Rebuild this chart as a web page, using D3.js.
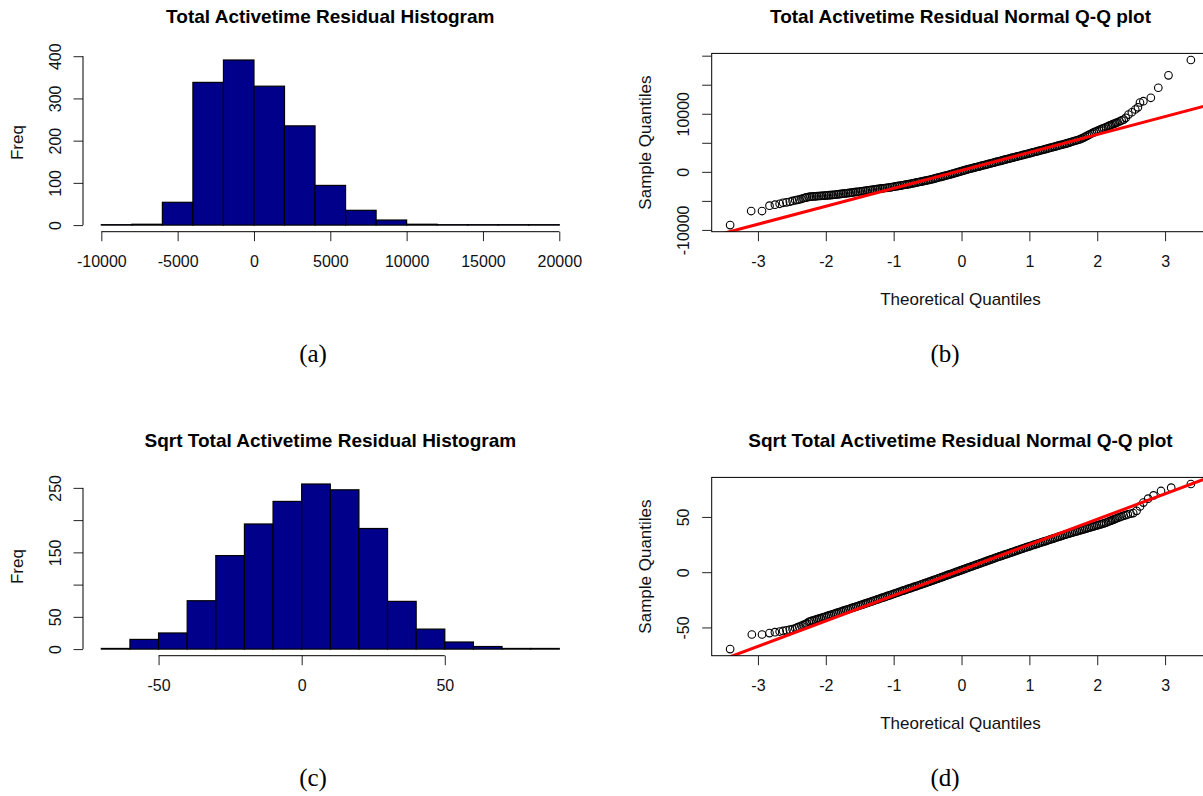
<!DOCTYPE html>
<html>
<head>
<meta charset="utf-8">
<script src="https://cdn.jsdelivr.net/npm/d3@7"></script>
<style>
  body { margin: 0; background: #fff; }
  svg { display: block; font-family: "Liberation Sans", Arial, sans-serif; }
</style>
</head>
<body>
<div id="main"></div>
<script>
// ---- data ----
const histTotalBreaks = [-10000, -8000, -6000, -4000, -2000, 0, 2000, 4000, 6000, 8000, 10000, 12000, 14000, 16000, 18000, 20000];
const histTotalCounts = [1, 2, 54, 338, 391, 329, 235, 94, 35, 12, 2, 1, 1, 1, 1];
const histTotalXTicks = [-10000, -5000, 0, 5000, 10000, 15000, 20000];
const histTotalYTicks = [0, 100, 200, 300, 400];
const histTotalYLabels = [0, 100, 200, 300, 400];

const histSqrtBreaks = [-70, -60, -50, -40, -30, -20, -10, 0, 10, 20, 30, 40, 50, 60, 70, 80, 90];
const histSqrtCounts = [1, 15, 25, 75, 145, 194, 229, 256, 247, 187, 74, 31, 11, 4, 1, 1];
const histSqrtXTicks = [-50, 0, 50];
const histSqrtYTicks = [0, 50, 100, 150, 200, 250];
const histSqrtYLabels = [0, 50, 150, 250];

const qqXTicks = [-3, -2, -1, 0, 1, 2, 3];
const qqTotalYTicks = [-10000, -5000, 0, 5000, 10000, 15000, 20000];
const qqTotalYLabels = [-10000, 0, 10000];
const qqSqrtYTicks = [-50, 0, 50];
const qqSqrtYLabels = [-50, 0, 50];

// qqline: [intercept, slope]
const qqTotalLine = [250, 3088];
const qqSqrtLine = [1.9, 23.0];

// [theoretical quantile, sample quantile]
const qqTotalPoints = [
  [-3.41,-9170],[-3.10,-6750],[-2.94,-6750],[-2.83,-5830],[-2.75,-5650],[-2.68,-5500],[-2.63,-5330],[-2.58,-5250],
  [-2.53,-5150],[-2.49,-5000],[-2.45,-4900],[-2.42,-4840],[-2.39,-4760],[-2.36,-4660],[-2.33,-4550],[-2.30,-4450],[-2.28,-4400],
  [-2.25,-4300],[-2.225,-4277],[-2.20,-4254],[-2.175,-4231],[-2.15,-4209],[-2.125,-4186],[-2.10,-4163],[-2.075,-4140],
  [-2.05,-4117],[-2.025,-4094],[-2.00,-4071],[-1.975,-4048],[-1.95,-4026],[-1.925,-4003],[-1.90,-3980],[-1.875,-3944],
  [-1.85,-3909],[-1.825,-3873],[-1.80,-3837],[-1.775,-3801],[-1.75,-3766],[-1.725,-3730],[-1.70,-3694],[-1.675,-3658],
  [-1.65,-3623],[-1.625,-3585],[-1.60,-3548],[-1.575,-3507],[-1.55,-3467],[-1.525,-3426],[-1.50,-3386],[-1.475,-3345],
  [-1.45,-3305],[-1.425,-3264],[-1.40,-3223],[-1.375,-3182],[-1.35,-3142],[-1.325,-3102],[-1.30,-3062],[-1.275,-3022],
  [-1.25,-2983],[-1.225,-2943],[-1.20,-2904],[-1.175,-2864],[-1.15,-2824],[-1.125,-2784],[-1.10,-2745],[-1.075,-2705],
  [-1.05,-2666],[-1.025,-2617],[-1.00,-2569],[-0.975,-2518],[-0.95,-2467],[-0.925,-2416],[-0.90,-2365],[-0.875,-2314],
  [-0.85,-2263],[-0.825,-2212],[-0.80,-2161],[-0.775,-2108],[-0.75,-2056],[-0.725,-1995],[-0.70,-1935],[-0.675,-1874],
  [-0.65,-1814],[-0.625,-1754],[-0.60,-1694],[-0.575,-1633],[-0.55,-1573],[-0.525,-1512],[-0.50,-1452],[-0.475,-1385],
  [-0.45,-1319],[-0.425,-1242],[-0.40,-1165],[-0.375,-1088],[-0.35,-1011],[-0.325,-934],[-0.30,-858],[-0.275,-781],
  [-0.25,-704],[-0.225,-627],[-0.20,-551],[-0.175,-468],[-0.15,-385],[-0.125,-300],[-0.10,-216],[-0.075,-131],
  [-0.05,-47],[-0.025,37],[0.00,122],[0.025,206],[0.05,291],[0.075,375],[0.10,460],[0.125,535],[0.15,610],[0.175,685],
  [0.20,760],[0.225,835],[0.25,910],[0.275,985],[0.30,1060],[0.325,1135],[0.35,1210],[0.375,1285],[0.40,1361],
  [0.425,1437],[0.45,1514],[0.475,1591],[0.50,1668],[0.525,1744],[0.55,1821],[0.575,1898],[0.60,1975],[0.625,2052],
  [0.65,2129],[0.675,2204],[0.70,2280],[0.725,2355],[0.75,2430],[0.775,2505],[0.80,2580],[0.825,2655],[0.85,2730],
  [0.875,2805],[0.90,2880],[0.925,2955],[0.95,3030],[0.975,3106],[1.00,3183],[1.025,3259],[1.05,3336],[1.075,3413],
  [1.10,3490],[1.125,3567],[1.15,3644],[1.175,3720],[1.20,3797],[1.225,3874],[1.25,3952],[1.275,4031],[1.30,4110],
  [1.325,4189],[1.35,4269],[1.375,4348],[1.40,4427],[1.425,4506],[1.45,4586],[1.475,4665],[1.50,4745],[1.525,4827],
  [1.55,4910],[1.575,4998],[1.60,5087],[1.625,5175],[1.65,5263],[1.675,5351],[1.70,5439],[1.725,5527],[1.75,5615],
  [1.775,5755],[1.80,5895],[1.825,6048],[1.85,6201],[1.875,6354],[1.90,6507],[1.925,6649],[1.95,6791],[1.975,6917],
  [2.00,7044],[2.025,7170],[2.05,7297],[2.075,7423],[2.10,7550],
  [2.13,7700],[2.16,7830],[2.18,7950],[2.20,8050],[2.22,8150],[2.24,8250],
  [2.26,8320],[2.28,8420],[2.30,8540],[2.33,8700],[2.36,8850],[2.39,9000],[2.42,9300],[2.46,9860],[2.51,10260],
  [2.56,10730],[2.60,11100],[2.63,11940],[2.68,12160],[2.79,12750],[2.90,14480],[3.05,16610],[3.38,19255]
];

const qqSqrtPoints = [
  [-3.41,-69.6],[-3.09,-56.4],[-2.94,-56.4],[-2.83,-55.1],[-2.75,-54.3],[-2.68,-53.7],[-2.63,-53.2],[-2.58,-52.6],
  [-2.53,-52.0],[-2.49,-51.4],[-2.45,-50.8],[-2.42,-50.0],[-2.39,-49.3],[-2.36,-48.5],[-2.33,-47.7],[-2.30,-47.0],[-2.28,-46.4],
  [-2.25,-44.9],[-2.225,-44.4],[-2.20,-43.9],[-2.175,-43.5],[-2.15,-43.0],[-2.125,-42.5],[-2.10,-42.0],[-2.075,-41.6],
  [-2.05,-41.1],[-2.025,-40.6],[-2.00,-40.1],[-1.975,-39.6],[-1.95,-39.1],[-1.925,-38.6],[-1.90,-38.1],[-1.875,-37.6],
  [-1.85,-37.1],[-1.825,-36.6],[-1.80,-36.1],[-1.775,-35.6],[-1.75,-35.1],[-1.725,-34.6],[-1.70,-34.1],[-1.675,-33.6],
  [-1.65,-33.1],[-1.625,-32.6],[-1.60,-32.1],[-1.575,-31.6],[-1.55,-31.1],[-1.525,-30.6],[-1.50,-30.1],[-1.475,-29.6],
  [-1.45,-29.1],[-1.425,-28.5],[-1.40,-28.0],[-1.375,-27.5],[-1.35,-27.0],[-1.325,-26.5],[-1.30,-25.9],[-1.275,-25.4],
  [-1.25,-24.9],[-1.225,-24.4],[-1.20,-23.8],[-1.175,-23.3],[-1.15,-22.8],[-1.125,-22.3],[-1.10,-21.7],[-1.075,-21.2],
  [-1.05,-20.7],[-1.025,-20.2],[-1.00,-19.6],[-0.975,-19.1],[-0.95,-18.6],[-0.925,-18.1],[-0.90,-17.5],[-0.875,-17.0],
  [-0.85,-16.5],[-0.825,-16.0],[-0.80,-15.4],[-0.775,-14.9],[-0.75,-14.4],[-0.725,-13.9],[-0.70,-13.3],[-0.675,-12.8],
  [-0.65,-12.3],[-0.625,-11.8],[-0.60,-11.2],[-0.575,-10.7],[-0.55,-10.2],[-0.525,-9.7],[-0.50,-9.1],[-0.475,-8.6],
  [-0.45,-8.0],[-0.425,-7.5],[-0.40,-6.9],[-0.375,-6.4],[-0.35,-5.8],[-0.325,-5.3],[-0.30,-4.7],[-0.275,-4.2],
  [-0.25,-3.6],[-0.225,-3.1],[-0.20,-2.5],[-0.175,-2.0],[-0.15,-1.4],[-0.125,-0.9],[-0.10,-0.3],[-0.075,0.3],
  [-0.05,0.8],[-0.025,1.4],[0.00,1.9],[0.025,2.5],[0.05,3.0],[0.075,3.6],[0.10,4.1],[0.125,4.7],[0.15,5.2],[0.175,5.8],
  [0.20,6.3],[0.225,6.9],[0.25,7.4],[0.275,8.0],[0.30,8.5],[0.325,9.1],[0.35,9.6],[0.375,10.2],[0.40,10.7],[0.425,11.3],
  [0.45,11.8],[0.475,12.4],[0.50,12.9],[0.525,13.5],[0.55,14.0],[0.575,14.5],[0.60,15.0],[0.625,15.6],[0.65,16.1],
  [0.675,16.6],[0.70,17.1],[0.725,17.7],[0.75,18.2],[0.775,18.7],[0.80,19.2],[0.825,19.8],[0.85,20.3],[0.875,20.8],
  [0.90,21.3],[0.925,21.9],[0.95,22.4],[0.975,22.9],[1.00,23.4],[1.025,23.9],[1.05,24.4],[1.075,24.9],[1.10,25.4],
  [1.125,25.9],[1.15,26.4],[1.175,26.9],[1.20,27.4],[1.225,27.9],[1.25,28.4],[1.275,28.9],[1.30,29.4],[1.325,29.9],
  [1.35,30.4],[1.375,30.9],[1.40,31.4],[1.425,31.9],[1.45,32.4],[1.475,32.9],[1.50,33.4],[1.525,33.9],[1.55,34.3],
  [1.575,34.8],[1.60,35.2],[1.625,35.7],[1.65,36.1],[1.675,36.6],[1.70,37.0],[1.725,37.5],[1.75,37.9],[1.775,38.4],
  [1.80,38.8],[1.825,39.3],[1.85,39.7],[1.875,40.2],[1.90,40.6],[1.925,41.1],[1.95,41.5],[1.975,42.0],[2.00,42.4],
  [2.025,42.9],[2.05,43.3],[2.075,43.8],[2.10,44.2],
  [2.13,44.9],[2.16,45.6],[2.18,46.1],[2.20,46.6],[2.22,47.1],[2.24,47.6],
  [2.26,48.1],[2.28,48.6],[2.30,49.1],[2.33,49.8],[2.36,50.5],[2.39,51.1],[2.42,51.7],[2.45,52.3],[2.49,52.9],
  [2.53,53.5],[2.58,55.5],[2.63,59.5],[2.68,63.0],[2.75,66.5],[2.83,69.5],[2.94,73.5],[3.09,76.5],[3.38,79.8]
];

// ---- layout ----
const width = 1203;
const height = 796;
const rowOffset = 424;
const leftPlot = { left: 83, right: 577.6 };
const rightPlot = { left: 711.7, right: 1209.3 };
const plotTop = 53.4;
const plotBottom = 231.7;
const tickLen = 9.5;

const svg = d3.select("#main").append("svg").attr("width", width).attr("height", height);
svg.append("rect").attr("width", width).attr("height", height).attr("fill", "#fff");

const padded = (lo, hi) => {
  const p = (hi - lo) * 0.04;
  return [lo - p, hi + p];
};

const addTitle = (g, cx, text) => {
  g.append("text")
    .attr("x", cx)
    .attr("y", 22.7)
    .attr("text-anchor", "middle")
    .style("font-size", "19px")
    .style("font-weight", "bold")
    .text(text);
};

const styleAxis = (axisG) => {
  axisG.attr("font-size", null).attr("font-family", null);
  axisG.select(".domain").remove();
  axisG.selectAll(".tick line").attr("stroke", "#222");
  axisG.selectAll(".tick text").attr("fill", "#111").style("font-size", "16px");
};

const bottomAxis = (g, x, ticks, yPos, drawLine) => {
  const axisG = g.append("g")
    .attr("transform", `translate(0, ${yPos})`)
    .call(d3.axisBottom(x).tickValues(ticks).tickSize(tickLen).tickSizeOuter(0).tickFormat((d) => String(d)));
  styleAxis(axisG);
  axisG.selectAll(".tick text").attr("y", 29.5).attr("dy", "0.35em");
  if (drawLine) {
    axisG.append("line")
      .attr("x1", x(ticks[0])).attr("x2", x(ticks[ticks.length - 1]))
      .attr("stroke", "#000");
  }
};

const leftAxis = (g, y, ticks, labels, xPos, drawLine) => {
  const axisG = g.append("g")
    .attr("transform", `translate(${xPos}, 0)`)
    .call(d3.axisLeft(y).tickValues(ticks).tickSize(tickLen).tickSizeOuter(0)
      .tickFormat((d) => (labels.includes(d) ? String(d) : "")));
  styleAxis(axisG);
  axisG.selectAll(".tick text")
    .attr("x", null)
    .attr("dy", "0.35em")
    .attr("text-anchor", "middle")
    .attr("transform", "translate(-28, 0) rotate(-90)");
  if (drawLine) {
    axisG.append("line")
      .attr("y1", y(ticks[0])).attr("y2", y(ticks[ticks.length - 1]))
      .attr("stroke", "#000");
  }
};

const yLabel = (g, cx, cy, text) => {
  g.append("text")
    .attr("transform", `translate(${cx}, ${cy}) rotate(-90)`)
    .attr("text-anchor", "middle")
    .attr("dy", "0.35em")
    .attr("fill", "#111")
    .style("font-size", "17px")
    .text(text);
};

const drawHistogram = (offset, breaks, counts, xTicks, yTicks, yLabels, title) => {
  const g = svg.append("g").attr("transform", `translate(0, ${offset})`);
  const x = d3.scaleLinear()
    .domain(padded(breaks[0], breaks[breaks.length - 1]))
    .range([leftPlot.left, leftPlot.right]);
  const y = d3.scaleLinear()
    .domain(padded(0, d3.max(counts)))
    .range([plotBottom, plotTop]);

  const bins = counts.map((c, i) => ({ x0: breaks[i], x1: breaks[i + 1], n: c }));
  g.selectAll("rect.bar")
    .data(bins)
    .enter()
    .append("rect")
    .attr("class", "bar")
    .attr("x", (d) => x(d.x0))
    .attr("width", (d) => x(d.x1) - x(d.x0))
    .attr("y", (d) => y(d.n))
    .attr("height", (d) => y(0) - y(d.n))
    .attr("fill", "#00008B")
    .attr("stroke", "#000")
    .attr("stroke-width", 1.2);

  bottomAxis(g, x, xTicks, plotBottom, true);
  leftAxis(g, y, yTicks, yLabels, leftPlot.left, true);
  yLabel(g, leftPlot.left - 65.6, (plotTop + plotBottom) / 2, "Freq");
  addTitle(g, (leftPlot.left + leftPlot.right) / 2, title);
};

const drawQQ = (offset, points, line, yTicks, yLabels, title, clipId) => {
  const g = svg.append("g").attr("transform", `translate(0, ${offset})`);
  const x = d3.scaleLinear()
    .domain(padded(d3.min(points, (d) => d[0]), d3.max(points, (d) => d[0])))
    .range([rightPlot.left, rightPlot.right]);
  const y = d3.scaleLinear()
    .domain(padded(d3.min(points, (d) => d[1]), d3.max(points, (d) => d[1])))
    .range([plotBottom, plotTop]);

  g.append("clipPath").attr("id", clipId)
    .append("rect")
    .attr("x", rightPlot.left).attr("y", plotTop)
    .attr("width", rightPlot.right - rightPlot.left).attr("height", plotBottom - plotTop);

  g.append("g")
    .selectAll("circle")
    .data(points)
    .enter()
    .append("circle")
    .attr("cx", (d) => x(d[0]))
    .attr("cy", (d) => y(d[1]))
    .attr("r", 3.8)
    .attr("fill", "none")
    .attr("stroke", "#000")
    .attr("stroke-width", 1.1);

  const [t0, t1] = x.domain();
  g.append("line")
    .attr("clip-path", `url(#${clipId})`)
    .attr("x1", x(t0)).attr("y1", y(line[0] + line[1] * t0))
    .attr("x2", x(t1)).attr("y2", y(line[0] + line[1] * t1))
    .attr("stroke", "#FF0000")
    .attr("stroke-width", 3);

  g.append("rect")
    .attr("x", rightPlot.left).attr("y", plotTop)
    .attr("width", rightPlot.right - rightPlot.left).attr("height", plotBottom - plotTop)
    .attr("fill", "none").attr("stroke", "#000");

  bottomAxis(g, x, qqXTicks, plotBottom, false);
  leftAxis(g, y, yTicks, yLabels, rightPlot.left, false);
  yLabel(g, rightPlot.left - 66.7, (plotTop + plotBottom) / 2, "Sample Quantiles");
  g.append("text")
    .attr("x", (rightPlot.left + rightPlot.right) / 2)
    .attr("y", 299)
    .attr("dy", "0.35em")
    .attr("text-anchor", "middle")
    .attr("fill", "#111")
    .style("font-size", "17px")
    .text("Theoretical Quantiles");
  addTitle(g, (rightPlot.left + rightPlot.right) / 2, title);
};

drawHistogram(0, histTotalBreaks, histTotalCounts, histTotalXTicks, histTotalYTicks, histTotalYLabels,
  "Total Activetime Residual Histogram");
drawQQ(0, qqTotalPoints, qqTotalLine, qqTotalYTicks, qqTotalYLabels,
  "Total Activetime Residual Normal Q-Q plot", "clip-b");
drawHistogram(rowOffset, histSqrtBreaks, histSqrtCounts, histSqrtXTicks, histSqrtYTicks, histSqrtYLabels,
  "Sqrt Total Activetime Residual Histogram");
drawQQ(rowOffset, qqSqrtPoints, qqSqrtLine, qqSqrtYTicks, qqSqrtYLabels,
  "Sqrt Total Activetime Residual Normal Q-Q plot", "clip-d");

// sub-figure captions
const captions = [
  { label: "(a)", x: 313, y: 353 },
  { label: "(b)", x: 945, y: 353 },
  { label: "(c)", x: 313, y: 353 + rowOffset },
  { label: "(d)", x: 945, y: 353 + rowOffset }
];
svg.selectAll("text.caption")
  .data(captions)
  .enter()
  .append("text")
  .attr("class", "caption")
  .attr("x", (d) => d.x)
  .attr("y", (d) => d.y)
  .attr("dy", "0.35em")
  .attr("text-anchor", "middle")
  .style("font-family", "'Liberation Serif', 'Times New Roman', serif")
  .style("font-size", "25px")
  .text((d) => d.label);
</script>
</body>
</html>
